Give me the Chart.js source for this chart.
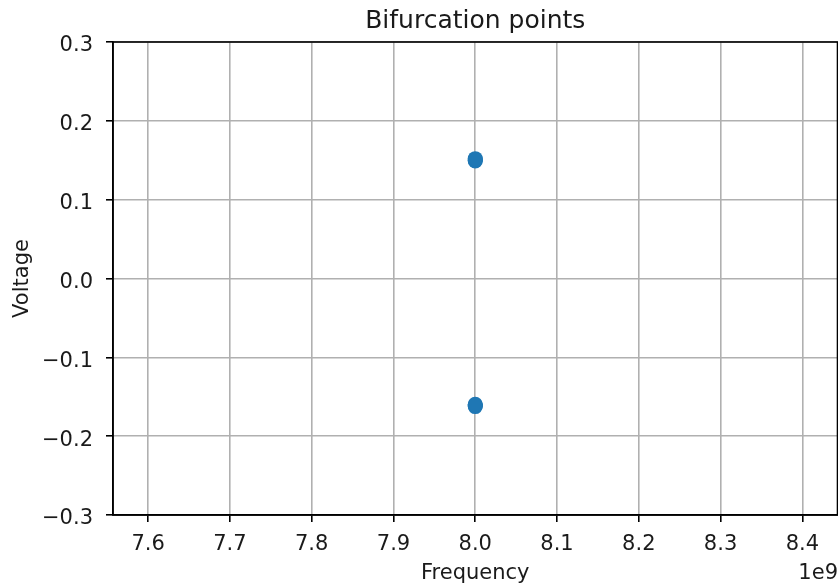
<!DOCTYPE html>
<html>
<head>
<meta charset="utf-8">
<script src="https://cdn.jsdelivr.net/npm/chart.js@4"></script>
<style>
  html, body { margin: 0; padding: 0; background: #fff; overflow: hidden; }
  #wrap { width: 845px; height: 588px; position: relative; }
</style>
</head>
<body>
<div id="wrap"><canvas id="c" width="845" height="588"></canvas></div>
<script>
// Bifurcation points found in the frequency sweep (frequency in Hz, voltage in V)
const upperFreq = [8.0e9, 8.0e9, 8.0e9, 8.0e9];
const upperVolt = [0.149, 0.150, 0.151, 0.152];
const lowerFreq = [8.0e9, 8.0e9, 8.0e9, 8.0e9];
const lowerVolt = [-0.1625, -0.1615, -0.1605, -0.1595];

// Axis limits and tick positions
const xLimits = [7.557e9, 8.443e9];
const yLimits = [-0.3, 0.3];
const xTicks = [7.6, 7.7, 7.8, 7.9, 8.0, 8.1, 8.2, 8.3, 8.4];   // in units of 1e9
const yTicks = [-0.3, -0.2, -0.1, 0.0, 0.1, 0.2, 0.3];

const titleText = 'Bifurcation points';
const xLabel = 'Frequency';
const yLabel = 'Voltage';
const xOffsetText = '1e9';

const FONT = '"DejaVu Sans", sans-serif';
const BLUE = '#1f77b4';
const TEXT = '#1a1a1a';

const points = [];
upperFreq.forEach((f, i) => points.push({ x: f, y: upperVolt[i] }));
lowerFreq.forEach((f, i) => points.push({ x: f, y: lowerVolt[i] }));

const fmt = v => {
  const s = v.toFixed(1);
  return s.startsWith('-') ? '\u2212' + s.slice(1) : s;
};

// Draws the frame, title and the x scale multiplier
const decor = {
  id: 'decor',
  afterDraw(chart) {
    const { ctx, chartArea: a } = chart;
    ctx.save();
    ctx.strokeStyle = '#000';
    ctx.lineWidth = 1.6;
    ctx.strokeRect(a.left, a.top, a.right - a.left, a.bottom - a.top);
    ctx.fillStyle = TEXT;
    ctx.font = '25px ' + FONT;
    ctx.textAlign = 'center';
    ctx.textBaseline = 'alphabetic';
    ctx.fillText(titleText, (a.left + a.right) / 2, 28);
    ctx.font = '21px ' + FONT;
    ctx.textAlign = 'right';
    ctx.fillText(xOffsetText, 838, 579);
    ctx.restore();
  }
};

new Chart(document.getElementById('c'), {
  type: 'scatter',
  data: {
    datasets: [{
      data: points,
      backgroundColor: BLUE,
      borderColor: BLUE,
      borderWidth: 0,
      pointRadius: 7.5,
      pointHoverRadius: 7.5
    }]
  },
  options: {
    responsive: false,
    animation: false,
    events: [],
    layout: { padding: { top: 42, right: 6, left: 0, bottom: 0 } },
    plugins: { legend: { display: false }, title: { display: false }, tooltip: { enabled: false } },
    scales: {
      x: {
        type: 'linear',
        min: xLimits[0],
        max: xLimits[1],
        afterBuildTicks: s => { s.ticks = xTicks.map(v => ({ value: v * 1e9 })); },
        afterFit: s => { s.height = 73; },
        grid: { color: '#b0b0b0', lineWidth: 1.6, tickLength: 7, tickColor: '#000', drawTicks: true },
        border: { color: '#000', width: 1.6 },
        ticks: {
          color: TEXT,
          font: { family: FONT, size: 21 },
          padding: 10,
          maxRotation: 0,
          autoSkip: false,
          callback: v => fmt(v / 1e9)
        },
        title: {
          display: true, text: xLabel, color: TEXT,
          font: { family: FONT, size: 21 },
          padding: { top: 0, bottom: 1.5 }
        }
      },
      y: {
        type: 'linear',
        min: yLimits[0],
        max: yLimits[1],
        afterBuildTicks: s => { s.ticks = yTicks.map(v => ({ value: v })); },
        afterFit: s => { s.width = 113; },
        grid: { color: '#b0b0b0', lineWidth: 1.6, tickLength: 7, tickColor: '#000', drawTicks: true },
        border: { color: '#000', width: 1.6 },
        ticks: {
          color: TEXT,
          font: { family: FONT, size: 21 },
          padding: 13,
          labelOffset: 4,
          autoSkip: false,
          callback: v => fmt(v)
        },
        title: {
          display: true, text: yLabel, color: TEXT,
          font: { family: FONT, size: 21 },
          padding: { top: 10, bottom: 0 }
        }
      }
    }
  },
  plugins: [decor]
});
</script>
</body>
</html>
